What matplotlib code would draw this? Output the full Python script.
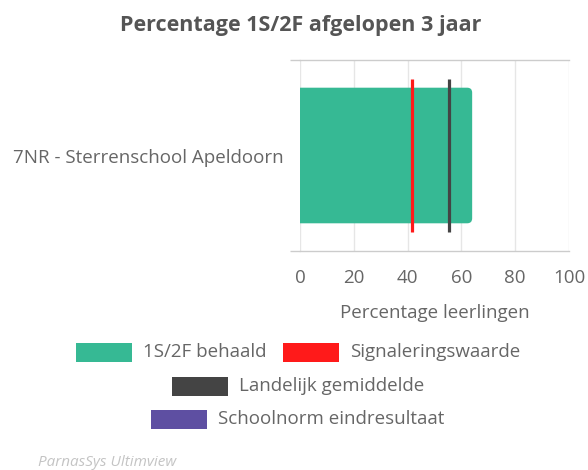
import matplotlib
matplotlib.use('Agg')
import matplotlib.pyplot as plt
from matplotlib.patches import FancyBboxPatch, Rectangle

plt.rcParams['font.family'] = ['Open Sans', 'DejaVu Sans']

# data
schools = ['7NR - Sterrenschool Apeldoorn']
behaald = [64.0]
signalering = [41.7]
landelijk = [55.3]
xticks = [0, 20, 40, 60, 80, 100]

legend_labels = ['1S/2F behaald', 'Signaleringswaarde', 'Landelijk gemiddelde', 'Schoolnorm eindresultaat']
legend_colors = ['#36b994', '#ff1a1a', '#444444', '#5e4fa2']

txt = '#666666'
fs = 13.5
W, H = 588, 470
fig = plt.figure(figsize=(W / 100, H / 100), dpi=100)
ax = fig.add_axes([300 / W, 1 - 251 / H, 269 / W, 191 / H])

bars = ax.barh(range(len(schools)), behaald, height=0.71, color=legend_colors[0])
# swap bars for rounded ones (left side hidden behind axis edge)
px_x = 100 / 269
px_y = 1 / 191
for b in bars:
    x0, y0 = b.get_x(), b.get_y()
    w, h = b.get_width(), b.get_height()
    b.set_visible(False)
    rb = FancyBboxPatch((x0 - 3, y0), w + 3, h,
                        boxstyle='round,pad=0,rounding_size=%f' % (5 * px_x),
                        mutation_aspect=px_y / px_x,
                        fc=legend_colors[0], ec='none', zorder=2)
    ax.add_patch(rb)

for i in range(len(schools)):
    ax.vlines(signalering[i], i - 0.4, i + 0.4, color=legend_colors[1], lw=2.3, zorder=3)
    ax.vlines(landelijk[i], i - 0.4, i + 0.4, color=legend_colors[2], lw=2.3, zorder=3)

ax.set_xlim(0, 100)
ax.set_ylim(len(schools) - 0.5, -0.5)
ax.set_xticks(xticks)
ax.set_xticklabels([str(t) for t in xticks], fontsize=fs, color=txt)
ax.tick_params(axis='x', length=0, pad=13)
ax.set_yticks(range(len(schools)))
ax.set_yticklabels(schools, fontsize=fs, color=txt)
ax.tick_params(axis='y', length=0, pad=12)
ax.set_yticks([-0.5 + k for k in range(len(schools) + 1)], minor=True)
ax.tick_params(axis='y', which='minor', length=7.5, color='#cccccc', width=1)
ax.grid(axis='x', color='#e6e6e6', lw=1, zorder=0)
ax.set_axisbelow(True)
for s in ['left', 'right']:
    ax.spines[s].set_visible(False)
for s in ['top', 'bottom']:
    ax.spines[s].set_color('#cccccc')
    ax.spines[s].set_linewidth(1)
ax.set_xlabel('Percentage leerlingen', fontsize=fs, color=txt, labelpad=12)

fig.text(301 / W, 1 - 25 / H, 'Percentage 1S/2F afgelopen 3 jaar', ha='center', va='center',
         fontsize=15.5, fontweight='bold', color='#555555')

# legend, laid out in centered rows like the original
rows = [[0, 1], [2], [3]]
row_y = [352, 386, 419]
sw, sh, gap, item_gap = 56, 19, 11, 16
fig.canvas.draw()
rend = fig.canvas.get_renderer()
for r, yc in zip(rows, row_y):
    tmp = [fig.text(0, 0, legend_labels[k], fontsize=fs) for k in r]
    wpx = [t.get_window_extent(rend).width for t in tmp]
    for t in tmp:
        t.remove()
    total = sum(sw + gap + w for w in wpx) + item_gap * (len(r) - 1)
    x = W / 2 - total / 2 + 4
    for k, w in zip(r, wpx):
        fig.patches.append(Rectangle((x / W, 1 - (yc + sh / 2) / H), sw / W, sh / H,
                                     transform=fig.transFigure, fc=legend_colors[k], ec='none'))
        fig.text((x + sw + gap) / W, 1 - yc / H, legend_labels[k], fontsize=fs, color=txt,
                 va='center', ha='left')
        x += sw + gap + w + item_gap

fig.text(38 / W, 1 - 462 / H, 'ParnasSys Ultimview', fontsize=11, style='italic', color='#c4c4c4',
         va='center', ha='left')

fig.savefig('out.png', dpi=100)
